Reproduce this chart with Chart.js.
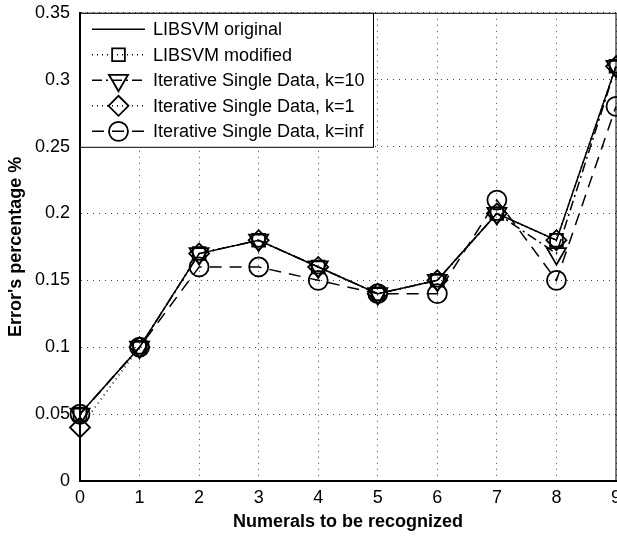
<!DOCTYPE html>
<html>
<head>
<meta charset="utf-8">
<script src="https://cdn.jsdelivr.net/npm/chart.js@4/dist/chart.umd.min.js"></script>
<style>
    html, body { margin: 0; padding: 0; background: #fff; }
    #wrap { width: 617px; height: 536px; overflow: hidden; position: relative; }
    #wrap canvas { position: absolute; left: 0; top: 0; }
</style>
</head>
<body>
<div id="wrap"><canvas id="chartErrors" width="660" height="536"></canvas></div>
<script>
const numerals = ['0', '1', '2', '3', '4', '5', '6', '7', '8', '9'];
const yTicks = [0, 0.05, 0.1, 0.15, 0.2, 0.25, 0.3, 0.35];
const yTickLabels = ['0', '0.05', '0.1', '0.15', '0.2', '0.25', '0.3', '0.35'];

const libsvmOriginal = [0.05, 0.10, 0.17, 0.18, 0.16, 0.14, 0.15, 0.20, 0.18, 0.31];
const libsvmModified = [0.05, 0.10, 0.17, 0.18, 0.16, 0.14, 0.15, 0.20, 0.18, 0.31];
const iterK10 = [0.05, 0.10, 0.17, 0.18, 0.16, 0.14, 0.15, 0.20, 0.17, 0.31];
const iterK1 = [0.04, 0.10, 0.17, 0.18, 0.16, 0.14, 0.15, 0.20, 0.18, 0.31];
const iterKinf = [0.05, 0.10, 0.16, 0.16, 0.15, 0.14, 0.14, 0.21, 0.15, 0.28];

Chart.defaults.font.family = "'Liberation Sans', Arial, Helvetica, sans-serif";
Chart.defaults.font.size = 18;
Chart.defaults.color = '#000';

function serie(label, data, dash, pointStyle, radius, rotation) {
    return {
        label: label,
        data: data,
        borderColor: '#000',
        borderWidth: 1.5,
        borderDash: dash,
        backgroundColor: 'rgba(0,0,0,0)',
        pointStyle: pointStyle,
        pointRadius: radius,
        pointRotation: rotation || 0,
        pointBorderColor: '#000',
        pointBackgroundColor: 'rgba(0,0,0,0)',
        pointBorderWidth: 1.8,
        tension: 0,
        fill: false
    };
}

// kader boven en rechts + legenda in de grafiek
const kaderEnLegenda = {
    id: 'kaderEnLegenda',
    afterDatasetsDraw(chart) {
        const ctx = chart.ctx;
        const area = chart.chartArea;
        ctx.save();
        ctx.strokeStyle = '#000';
        ctx.lineWidth = 1;
        ctx.setLineDash([]);
        ctx.beginPath();
        ctx.moveTo(area.left, area.top + 0.5);
        ctx.lineTo(area.right, area.top + 0.5);
        ctx.lineTo(area.right, area.bottom);
        ctx.stroke();

        // legenda
        const bx = area.left + 0.5, by = area.top + 0.5, bw = 293, bh = 134;
        ctx.fillStyle = '#fff';
        ctx.fillRect(bx, by, bw, bh);
        ctx.strokeRect(bx, by, bw, bh);

        chart.data.datasets.forEach(function (ds, i) {
            const y = by + 16 + i * 25.5;
            ctx.strokeStyle = '#000';
            ctx.lineWidth = ds.borderWidth;
            ctx.setLineDash(ds.borderDash);
            ctx.beginPath();
            ctx.moveTo(92, y);
            ctx.lineTo(145, y);
            ctx.stroke();
            ctx.setLineDash([]);
            if (ds.pointRadius > 0) {
                ctx.lineWidth = ds.pointBorderWidth;
                ctx.fillStyle = 'rgba(0,0,0,0)';
                Chart.helpers.drawPoint(ctx, {
                    pointStyle: ds.pointStyle,
                    radius: ds.pointRadius,
                    rotation: ds.pointRotation,
                    borderWidth: ds.pointBorderWidth
                }, 118.5, y);
            }
            ctx.fillStyle = '#000';
            ctx.font = "18px 'Liberation Sans', Arial, Helvetica, sans-serif";
            ctx.textBaseline = 'middle';
            ctx.textAlign = 'left';
            ctx.fillText(ds.label, 153, y + 1);
        });
        ctx.restore();
    }
};

const ctx = document.getElementById('chartErrors').getContext('2d');
const chartErrors = new Chart(ctx, {
    type: 'line',
    data: {
        labels: numerals,
        datasets: [
            serie('LIBSVM original', libsvmOriginal, [], 'circle', 0),
            serie('LIBSVM modified', libsvmModified, [1, 4], 'rect', 9),
            serie('Iterative Single Data, k=10', iterK10, [10, 4, 2, 4], 'triangle', 11, 180),
            serie('Iterative Single Data, k=1', iterK1, [1, 4], 'rectRot', 10),
            serie('Iterative Single Data, k=inf', iterKinf, [12, 8], 'circle', 9.5)
        ]
    },
    options: {
        responsive: false,
        animation: false,
        events: [],
        layout: {
            padding: {top: 12, right: 44, left: 0, bottom: 0}
        },
        scales: {
            x: {
                type: 'category',
                offset: false,
                afterFit: function (scale) {
                    scale.height = 55;
                    scale.paddingLeft = 0;
                    scale.paddingRight = 0;
                },
                grid: {
                    color: '#444',
                    lineWidth: 1,
                    drawTicks: false
                },
                border: {
                    display: true,
                    color: '#000',
                    width: 2,
                    dash: [1, 5]
                },
                ticks: {
                    padding: 6,
                    maxRotation: 0,
                    autoSkip: false
                },
                title: {
                    display: true,
                    text: 'Numerals to be recognized',
                    font: {weight: 'bold', size: 18},
                    padding: {top: 0, bottom: 3}
                }
            },
            y: {
                type: 'linear',
                min: 0,
                max: 0.35,
                afterFit: function (scale) {
                    scale.width = 80;
                    scale.paddingTop = 0;
                    scale.paddingBottom = 0;
                },
                afterBuildTicks: function (scale) {
                    scale.ticks = yTicks.map(v => ({value: v}));
                },
                grid: {
                    color: '#444',
                    lineWidth: 1,
                    drawTicks: false
                },
                border: {
                    display: true,
                    color: '#000',
                    width: 2,
                    dash: [1, 5]
                },
                ticks: {
                    padding: 10,
                    callback: function (value, index) {
                        return yTickLabels[index];
                    }
                },
                title: {
                    display: true,
                    text: "Error's percentage %",
                    font: {weight: 'bold', size: 18},
                    padding: {top: 5, bottom: 0}
                }
            }
        },
        plugins: {
            legend: {display: false},
            tooltip: {enabled: false}
        }
    },
    plugins: [kaderEnLegenda]
});
</script>
</body>
</html>
